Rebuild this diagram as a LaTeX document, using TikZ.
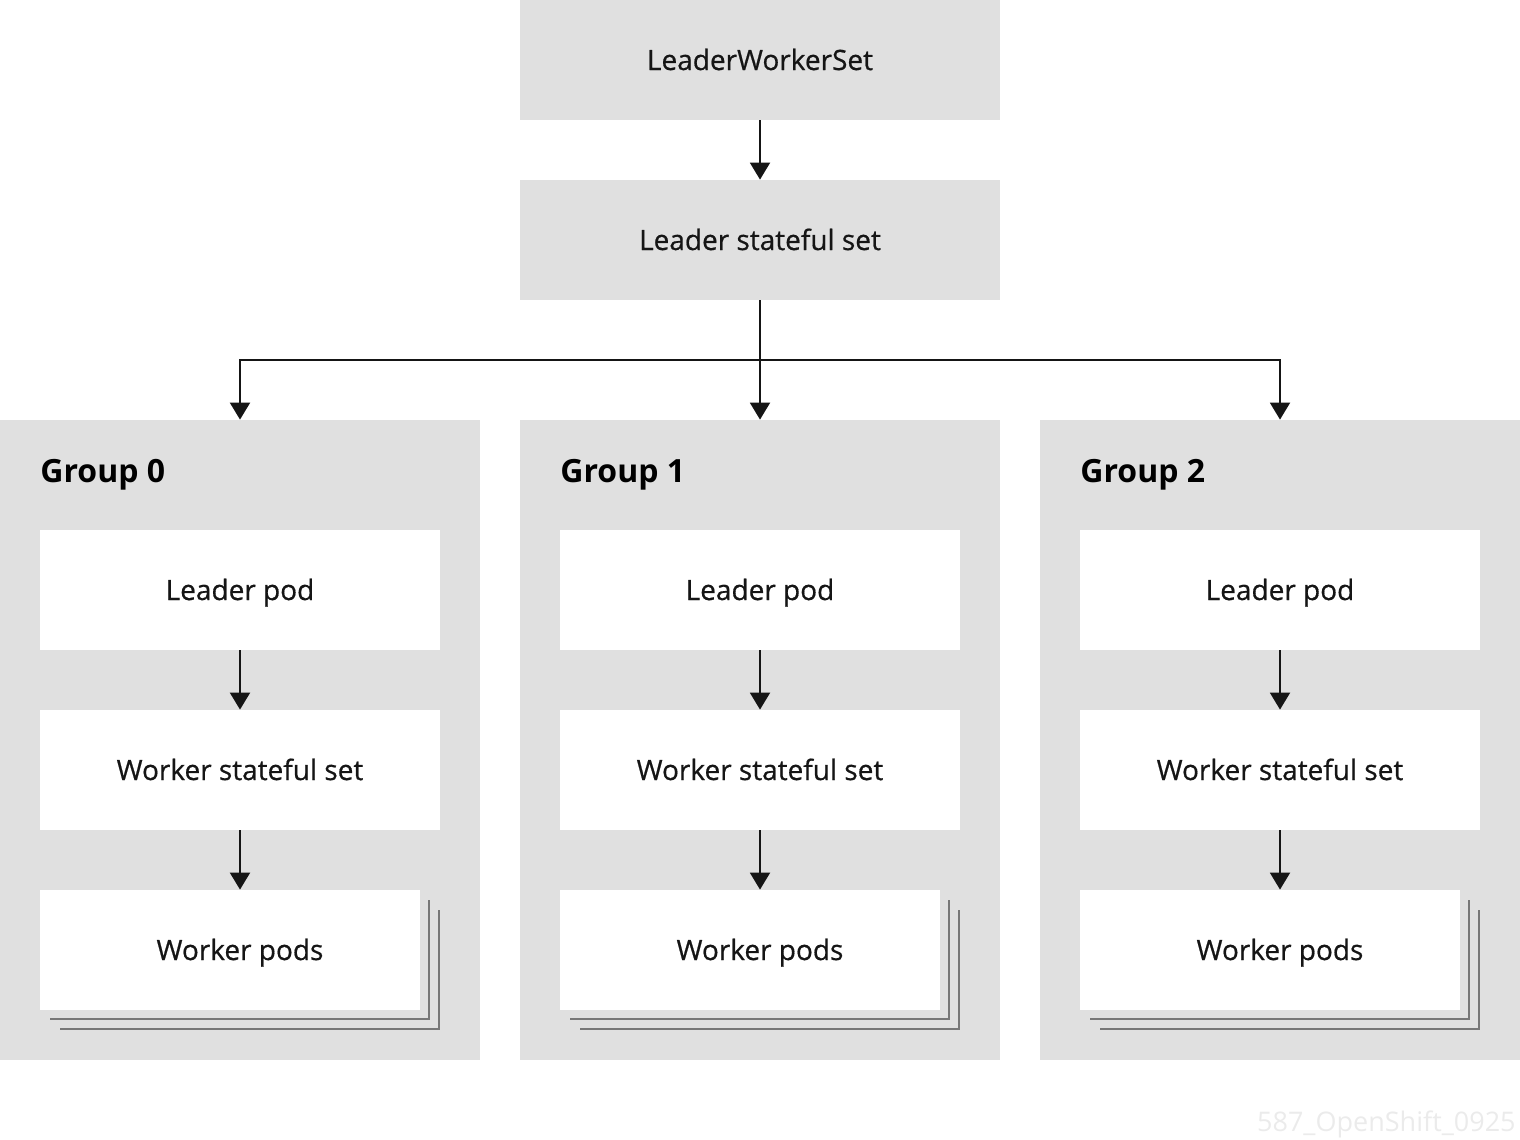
\documentclass[tikz,border=0pt]{standalone}
\usepackage{fontspec}
\setmainfont{Open Sans}
\usetikzlibrary{arrows.meta}
\definecolor{boxgray}{HTML}{E0E0E0}
\definecolor{linedark}{HTML}{151515}
\definecolor{stackgray}{HTML}{777777}
\definecolor{wmark}{HTML}{EBEBEB}
\newcommand{\bodyfont}{\fontsize{14}{16}\selectfont\addfontfeatures{FakeBold=0.6}}
\tikzset{
  txt/.style={text height=1em, text depth=0pt},
  topbox/.style={fill=boxgray, draw=none, minimum width=240pt, minimum height=60pt, inner sep=0pt, font=\bodyfont, text=linedark, txt},
  groupbox/.style={fill=boxgray, draw=none, minimum width=240pt, minimum height=320pt, inner sep=0pt},
  innerbox/.style={fill=white, draw=none, minimum width=200pt, minimum height=60pt, inner sep=0pt, font=\bodyfont, text=linedark, txt},
  podbox/.style={fill=white, draw=none, minimum width=190pt, minimum height=60pt, inner sep=0pt},
  grouplabel/.style={anchor=west, inner sep=0pt, font=\bfseries\fontsize{16}{18}\selectfont, text=black, txt},
  arr/.style={draw=linedark, line width=1pt, -{Triangle[width=10pt,length=8.5pt]}},
  stackline/.style={draw=stackgray, line width=1pt}
}
\begin{document}
\begin{tikzpicture}[x=0.5pt,y=-0.5pt]
\useasboundingbox (0,0) rectangle (1520,1140);
\node[topbox] (lws) at (760,60) {LeaderWorkerSet};
\node[topbox] (lss) at (760,240) {Leader stateful set};
\draw[arr] (lws.south) -- (lss.north);

\foreach \i/\cx in {0/240,1/760,2/1280}{
  \node[groupbox] (g\i) at (\cx,740) {};
  \node[grouplabel] (gl\i) at (\cx-200,472) {Group \i};
  \node[innerbox] (lp\i) at (\cx,590) {Leader pod};
  \node[innerbox] (ws\i) at (\cx,770) {Worker stateful set};
  \draw[stackline] (\cx-180,1029) -- (\cx+199,1029) -- (\cx+199,910);
  \draw[stackline] (\cx-190,1019) -- (\cx+189,1019) -- (\cx+189,900);
  \node[podbox] (wp\i) at (\cx-10,950) {};
  \node[font=\bodyfont, text=linedark, txt, inner sep=0pt] (wpt\i) at (\cx,950) {Worker pods};
  \draw[arr] (lp\i.south) -- (ws\i.north);
  \draw[arr] (ws\i.south) -- (ws\i.south |- wp\i.north);
}
\coordinate (split) at (760,360);
\draw[arr] (lss.south) -- (g1.north);
\draw[arr] (split) -| (g0.north);
\draw[arr] (split) -| (g2.north);

\node[anchor=east, text=wmark, font=\fontsize{13.5}{15}\selectfont, txt, inner sep=0pt] (wm) at (1516,1121) {587\_OpenShift\_0925};
\end{tikzpicture}
\end{document}
